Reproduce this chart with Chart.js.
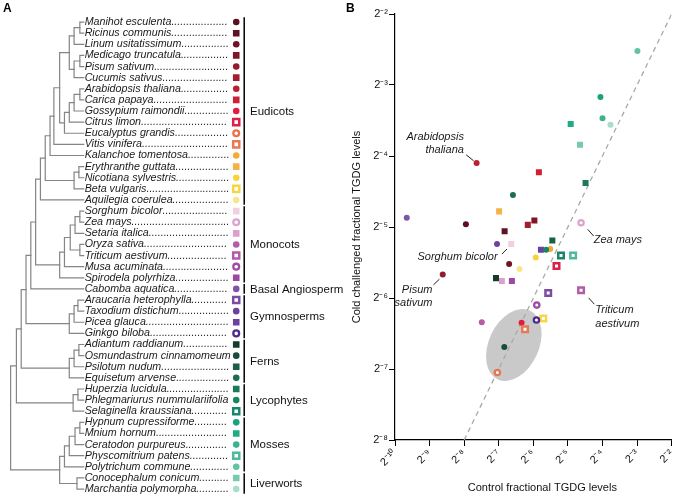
<!DOCTYPE html>
<html><head><meta charset="utf-8">
<script src="https://cdn.jsdelivr.net/npm/chart.js@4.4.0/dist/chart.umd.min.js"></script>
<style>
html,body{margin:0;padding:0;background:#fff;}
#wrap{position:relative;width:682px;height:501px;overflow:hidden;background:#fff;}
canvas{position:absolute;top:0;}
#cA{left:0;} #cB{left:340px;}
</style></head><body>
<div id="wrap"><canvas id="cA" width="350" height="501"></canvas><canvas id="cB" width="342" height="501"></canvas></div>
<script>
// ---------------- data ----------------
const species = ['Manihot esculenta','Ricinus communis','Linum usitatissimum','Medicago truncatula','Pisum sativum','Cucumis sativus','Arabidopsis thaliana','Carica papaya','Gossypium raimondii','Citrus limon','Eucalyptus grandis','Vitis vinifera','Kalanchoe tomentosa','Erythranthe guttata','Nicotiana sylvestris','Beta vulgaris','Aquilegia coerulea','Sorghum bicolor','Zea mays','Setaria italica','Oryza sativa','Triticum aestivum','Musa acuminata','Spirodela polyrhiza','Cabomba aquatica','Araucaria heterophylla','Taxodium distichum','Picea glauca','Ginkgo biloba','Adiantum raddianum','Osmundastrum cinnamomeum','Psilotum nudum','Equisetum arvense','Huperzia lucidula','Phlegmariurus nummulariifolia','Selaginella kraussiana','Hypnum cupressiforme','Mnium hornum','Ceratodon purpureus','Physcomitrium patens','Polytrichum commune','Conocephalum conicum','Marchantia polymorpha'];
const markerShapes = ['circle','rect','circle','rect','circle','rect','circle','rect','circle','openRect','openCircle','openRect','circle','rect','circle','openRect','circle','rect','openCircle','rect','circle','openRect','openCircle','rect','circle','openRect','circle','rect','openCircle','rect','circle','rect','circle','rect','circle','openRect','circle','rect','circle','openRect','circle','rect','circle'];
const markerColors = ['#5c0f1f','#5e1324','#6d1428','#7e1628','#921b2d','#a31d31','#bb1f34','#cc2136','#e11d40','#dc2149','#e8744f','#e77a52','#f4a93b','#f6b24a','#f9d33b','#f8d547','#f9e48f','#f1cfe2','#dba5cc','#dca0cb','#b85ba7','#b45ba8','#9c4ea7','#9a4aa2','#7f55a8','#7c4ca2','#6e41a0','#6b419e','#502b8f','#143b2c','#174e3a','#1b5f46','#1b6e50','#1a7a5b','#188660','#17866a','#1ca27a','#21ab85','#3db28e','#4fb99b','#64c1a1','#79c9ae','#a8ddc7'];
// log2 of control and cold-challenged fractional TGDG levels
const controlLog2 = [-7.95,-6.83,-6.70,-5.97,-8.62,-6.16,-7.64,-5.84,-6.34,-5.33,-7.04,-6.24,-5.51,-6.99,-5.93,-5.71,-6.40,-6.64,-4.62,-6.91,-7.49,-4.62,-5.90,-6.62,-9.66,-5.57,-7.05,-5.78,-5.91,-7.08,-6.84,-5.45,-6.59,-4.49,-5.63,-5.20,-4.06,-4.92,-4.00,-4.85,-2.99,-4.65,-3.77];
const coldLog2    = [-4.96,-5.06,-5.52,-4.91,-5.67,-4.97,-4.10,-4.23,-6.35,-5.55,-7.05,-6.44,-5.31,-4.78,-5.43,-6.29,-5.59,-5.24,-4.94,-5.76,-6.34,-5.89,-6.10,-5.76,-4.87,-5.93,-5.24,-5.32,-6.31,-5.72,-6.69,-5.19,-4.55,-4.38,-5.32,-5.40,-3.17,-3.55,-3.47,-5.40,-2.52,-3.84,-3.56];
const cladeNames = ['Eudicots','Monocots','Basal Angiosperm','Gymnosperms','Ferns','Lycophytes','Mosses','Liverworts'];
const cladeFirstRow = [0,17,24,25,29,33,36,41];
const cladeLastRow  = [16,23,24,28,32,35,40,42];
const xTickExponents = [-10,-9,-8,-7,-6,-5,-4,-3,-2];
const yTickExponents = [-8,-7,-6,-5,-4,-3,-2];
const identityLine = [-8,-2];
const ellipseCenter = [-6.565,-6.662];
const annotated = [6,18,17,4,21];

// tree: N(depth, children) ; leaves are row indices
function N(x,c){return {x:x,c:c};}
const fabids = N(65,[N(70,[N(76,[0,1]),2]),N(70,[N(76,[3,4]),5])]);
const malvids = N(60,[N(65,[N(70,[N(76,[6,7]),8]),9]),10]);
const eudicots = N(35,[N(40,[N(45,[N(49,[N(55,[fabids,malvids]),11]),12]),N(70,[N(75,[13,14]),15])]),16]);
const monocots = N(55,[N(60,[N(66,[N(71,[N(76,[17,18]),19]),N(76,[20,21])]),22]),23]);
const gymno = N(65,[N(70,[N(74,[25,26]),27]),28]);
const ferns = N(65,[N(70,[N(75,[29,30]),31]),32]);
const lyco = N(69,[N(74,[33,34]),35]);
const bryo = N(55,[N(60,[N(65,[N(71,[N(76,[36,37]),38]),39]),40]),N(73,[41,42])]);
const tree = N(4,[N(10,[N(15,[N(20,[N(25,[N(30,[eudicots,monocots]),24]),gymno]),ferns]),lyco]),bryo]);

// ---------------- helpers ----------------
const FAM = "'Liberation Sans', Arial, Helvetica, sans-serif";
const SUP = {'-':'\u207B','0':'\u2070','1':'\u00B9','2':'\u00B2','3':'\u00B3','4':'\u2074','5':'\u2075','6':'\u2076','7':'\u2077','8':'\u2078','9':'\u2079'};
function sup(v){return String(v).split('').map(ch=>SUP[ch]||ch).join('');}
function styleFor(i, big){
  const s = markerShapes[i], c = markerColors[i], k = big?1.1:1;
  if(s==='circle') return {ps:'circle',bg:c,bc:c,bw:0,r:3*k};
  if(s==='rect') return {ps:'rect',bg:c,bc:c,bw:0,r:4.25*k};
  if(s==='openRect') return {ps:'rect',bg:'#ffffff',bc:c,bw:2.5,r:3.9*k};
  return {ps:'circle',bg:'#ffffff',bc:c,bw:2.3,r:2.65*k};
}
function markerDataset(points, big){
  const st = species.map((s,i)=>styleFor(i,big));
  return {data:points, pointStyle:st.map(o=>o.ps), pointBackgroundColor:st.map(o=>o.bg),
    pointBorderColor:st.map(o=>o.bc), pointBorderWidth:st.map(o=>o.bw), pointRadius:st.map(o=>o.r),
    pointHoverRadius:st.map(o=>o.r), showLine:false, order:1};
}

// ---------------- panel A ----------------
const LEAF_END = 80, TEXT_X = 81, DOT_END = 232, MARK_X = 238.7, BAR_X = 247, CLADE_X = 253;
const treePlugin = {
  id:'treeA',
  beforeDatasetsDraw(chart){
    const ctx = chart.ctx, xs = chart.scales.x, ys = chart.scales.y;
    ctx.save();
    ctx.strokeStyle = '#858585'; ctx.lineWidth = 1.2; ctx.lineCap='square';
    function walk(n){
      if(typeof n === 'number') return {y:n, x:LEAF_END};
      const kids = n.c.map(walk);
      const y0 = kids[0].y, y1 = kids[kids.length-1].y;
      const px = xs.getPixelForValue(n.x);
      ctx.beginPath();
      ctx.moveTo(px, ys.getPixelForValue(y0)); ctx.lineTo(px, ys.getPixelForValue(y1));
      kids.forEach(k=>{ const py = ys.getPixelForValue(k.y); ctx.moveTo(px,py); ctx.lineTo(xs.getPixelForValue(k.x),py); });
      ctx.stroke();
      return {y:(y0+y1)/2, x:n.x};
    }
    walk(tree);
    // species labels
    ctx.fillStyle = '#1a1a1a';
    ctx.font = 'italic 10.7px ' + FAM;
    ctx.textBaseline = 'middle'; ctx.textAlign='left';
    const dw = ctx.measureText('.').width;
    species.forEach((name,i)=>{
      const py = ys.getPixelForValue(i);
      const tx = xs.getPixelForValue(TEXT_X);
      ctx.fillText(name, tx, py);
      const w = ctx.measureText(name).width;
      const n = Math.floor((xs.getPixelForValue(DOT_END) - tx - w) / dw);
      if(n>0) ctx.fillText('.'.repeat(n), tx + w, py);
    });
    // clade bars and names
    ctx.strokeStyle='#000'; ctx.lineWidth=1.5; ctx.lineCap='butt';
    ctx.font = '11.5px ' + FAM; ctx.fillStyle='#111';
    cladeNames.forEach((nm,k)=>{
      const a = ys.getPixelForValue(cladeFirstRow[k]) - 4.8, b = ys.getPixelForValue(cladeLastRow[k]) + 4.8;
      const bx = xs.getPixelForValue(BAR_X);
      ctx.beginPath(); ctx.moveTo(bx,a); ctx.lineTo(bx,b); ctx.stroke();
      ctx.fillText(nm, xs.getPixelForValue(CLADE_X), ys.getPixelForValue((cladeFirstRow[k]+cladeLastRow[k])/2)+0.5);
    });
    ctx.font = 'bold 12px ' + FAM; ctx.fillStyle='#000'; ctx.textBaseline='top';
    ctx.fillText('A', 3, 3);
    ctx.restore();
  }
};
new Chart(document.getElementById('cA'), {
  type:'scatter',
  data:{datasets:[ markerDataset(species.map((s,i)=>({x:MARK_X, y:i})), true) ]},
  options:{responsive:false, animation:false, devicePixelRatio:1,
    layout:{padding:0},
    plugins:{legend:{display:false}, tooltip:{enabled:false}},
    scales:{ x:{type:'linear', display:false, min:0, max:350},
             y:{type:'linear', display:false, min:-1.374, max:42.464, reverse:true} }
  },
  plugins:[treePlugin]
});

// ---------------- panel B ----------------
const annotations = {
  6:{lines:['Arabidopsis','thaliana'], align:'right', tx:-12.7, ty:[-26.6,-13.3], l:[-10.4,-8.3,-3,-2.3]},
  18:{lines:['Zea mays'], align:'left', tx:12.6, ty:[17.3], l:[6.6,6.6,12.6,13.3]},
  17:{lines:['Sorghum bicolor'], align:'right', tx:-13.6, ty:[12.7], l:[-9.3,10,-4.3,5]},
  4:{lines:['Pisum','sativum'], align:'right', tx:-10.3, ty:[15.3,28.6], l:[-9.3,10.3,-3.3,4.6]},
  21:{lines:['Triticum','aestivum'], align:'left', tx:14.3, ty:[20,33.3], l:[7.6,7.7,13.3,14]}
};
const X_TITLE = 'Control fractional TGDG levels';
const bPlugin = {
  id:'bExtras',
  beforeDatasetsDraw(chart){
    const ctx = chart.ctx, xs = chart.scales.x, ys = chart.scales.y;
    ctx.save();
    ctx.fillStyle = '#c9c9c9';
    ctx.beginPath();
    ctx.ellipse(xs.getPixelForValue(ellipseCenter[0]), ys.getPixelForValue(ellipseCenter[1]), 25, 38, 25*Math.PI/180, 0, Math.PI*2);
    ctx.fill();
    ctx.restore();
  },
  afterDatasetsDraw(chart){
    const ctx = chart.ctx, xs = chart.scales.x, ys = chart.scales.y;
    ctx.save();
    ctx.font = 'italic 11px ' + FAM; ctx.fillStyle='#1a1a1a'; ctx.textBaseline='middle';
    ctx.strokeStyle='#222'; ctx.lineWidth=1;
    annotated.forEach(i=>{
      const a = annotations[i];
      const px = xs.getPixelForValue(controlLog2[i]), py = ys.getPixelForValue(coldLog2[i]);
      ctx.textAlign = a.align;
      a.lines.forEach((t,j)=>ctx.fillText(t, px+a.tx, py+a.ty[j]));
      ctx.beginPath(); ctx.moveTo(px+a.l[0], py+a.l[1]); ctx.lineTo(px+a.l[2], py+a.l[3]); ctx.stroke();
    });
    // x-axis title, centred slightly right of the axis centre as in the original
    ctx.font = '11px ' + FAM; ctx.fillStyle='#111'; ctx.textAlign='center'; ctx.textBaseline='middle';
    ctx.fillText(X_TITLE, (xs.left + xs.right)/2 + 9, 488);
    ctx.font='bold 12px ' + FAM; ctx.fillStyle='#000'; ctx.textAlign='left'; ctx.textBaseline='top';
    ctx.fillText('B', 6, 3);
    ctx.restore();
  }
};
const tickFont = {family:FAM, size:11};
new Chart(document.getElementById('cB'), {
  type:'scatter',
  data:{datasets:[
    {data:identityLine.map(v=>({x:v,y:v})), showLine:true, borderColor:'#a9a9a9', borderWidth:1.3, borderDash:[5,4], pointRadius:0, order:2},
    markerDataset(species.map((s,i)=>({x:controlLog2[i], y:coldLog2[i]})), false)
  ]},
  options:{responsive:false, animation:false, devicePixelRatio:1,
    layout:{padding:{top:14,right:3,left:0,bottom:0}},
    plugins:{legend:{display:false}, tooltip:{enabled:false}},
    scales:{
      x:{type:'linear', min:-10, max:-2,
        afterBuildTicks:s=>{s.ticks = xTickExponents.map(v=>({value:v}));},
        afterFit:s=>{s.height=61;},
        ticks:{callback:v=>'2'+sup(v), minRotation:45, maxRotation:45, font:tickFont, color:'#111', padding:1, autoSkip:false},
        grid:{drawOnChartArea:false, drawTicks:true, tickLength:6, color:'#000', lineWidth:1},
        border:{display:true, color:'#000', width:1.2},
        title:{display:false}
      },
      y:{type:'linear', min:-8, max:-2,
        afterBuildTicks:s=>{s.ticks = yTickExponents.map(v=>({value:v}));},
        afterFit:s=>{s.width=55;},
        ticks:{callback:v=>'2'+sup(v), font:tickFont, color:'#111', padding:1, autoSkip:false},
        grid:{drawOnChartArea:false, drawTicks:true, tickLength:6, color:'#000', lineWidth:1},
        border:{display:true, color:'#000', width:1.2},
        title:{display:true, text:'Cold challenged fractional TGDG levels', font:{family:FAM,size:11}, color:'#111', padding:{top:10,bottom:0}}
      }
    }
  },
  plugins:[bPlugin]
});
</script>
</body></html>
